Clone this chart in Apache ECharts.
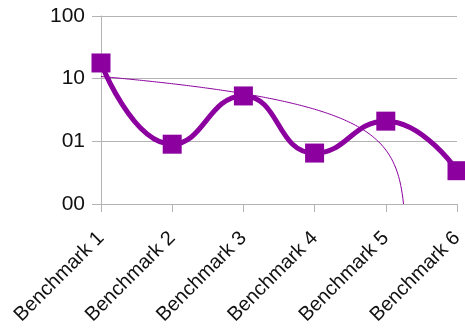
<!DOCTYPE html>
<html>
  <head>
    <meta charset="utf-8" />
    <title>Benchmarks</title>
    <script src="https://cdn.jsdelivr.net/npm/echarts@6.0.0/dist/echarts.min.js"></script>
    <style>
      body { margin: 0; background: #fff; }
      #chart { width: 465px; height: 329px; }
    </style>
  </head>
  <body>
    <div id="chart"></div>
    <script>
      const categories = ['Benchmark 1', 'Benchmark 2', 'Benchmark 3', 'Benchmark 4', 'Benchmark 5', 'Benchmark 6'];
      const values = [17.8, 0.9, 5.3, 0.65, 2.1, 0.34];
      const yTickValues = [0.1, 1, 10, 100];
      const yTickLabels = ['00', '01', '10', '100'];

      const purple = '#8b009e';

      // linear trend line (least squares over the data), drawn on the log axis
      const n = values.length;
      const mx = (n - 1) / 2;
      const my = values.reduce((a, b) => a + b, 0) / n;
      let sxy = 0, sxx = 0;
      values.forEach((v, i) => { sxy += (i - mx) * (v - my); sxx += (i - mx) * (i - mx); });
      const slope = sxy / sxx;
      const icpt = my - slope * mx;
      const trend = [];
      for (let x = 0; x <= n - 1; x += 0.01) {
        const y = icpt + slope * x;
        if (y < yTickValues[0]) {
          trend.push([(yTickValues[0] - icpt) / slope, yTickValues[0]]);
          break;
        }
        trend.push([x, y]);
      }

      const chart = echarts.init(document.getElementById('chart'));
      chart.setOption({
        animation: false,
        grid: { left: 101, right: 8, top: 16, bottom: 125, outerBoundsMode: 'none' },
        xAxis: [
          {
            type: 'category',
            data: categories,
            boundaryGap: false,
            axisLine: { lineStyle: { color: '#b3b3b3' } },
            axisTick: { show: true, length: 8, lineStyle: { color: '#b3b3b3' } },
            splitLine: { show: false },
            axisLabel: {
              rotate: 45,
              margin: 31,
              interval: 0,
              fontFamily: 'Liberation Sans',
              fontSize: 20,
              color: '#111'
            }
          },
          {
            type: 'value',
            min: 0,
            max: n - 1,
            show: false
          }
        ],
        yAxis: {
          type: 'log',
          logBase: 10,
          min: yTickValues[0],
          max: yTickValues[yTickValues.length - 1],
          axisLine: { show: true, lineStyle: { color: '#b3b3b3' } },
          axisTick: { show: true, length: 9, lineStyle: { color: '#b3b3b3' } },
          splitLine: { show: true, lineStyle: { color: '#b3b3b3' } },
          axisLabel: {
            margin: 16,
            fontFamily: 'Liberation Sans',
            fontSize: 21,
            color: '#111',
            formatter: function (v) {
              const k = Math.round(Math.log10(v)) - Math.round(Math.log10(yTickValues[0]));
              return yTickLabels[k] || '';
            }
          }
        },
        series: [
          {
            type: 'line',
            xAxisIndex: 1,
            data: trend,
            showSymbol: false,
            lineStyle: { color: purple, width: 1 },
            z: 1
          },
          {
            type: 'line',
            data: values,
            smooth: 0.5,
            symbol: 'rect',
            symbolSize: 19,
            itemStyle: { color: purple },
            lineStyle: { color: purple, width: 5 },
            z: 2
          }
        ]
      });
    </script>
  </body>
</html>
